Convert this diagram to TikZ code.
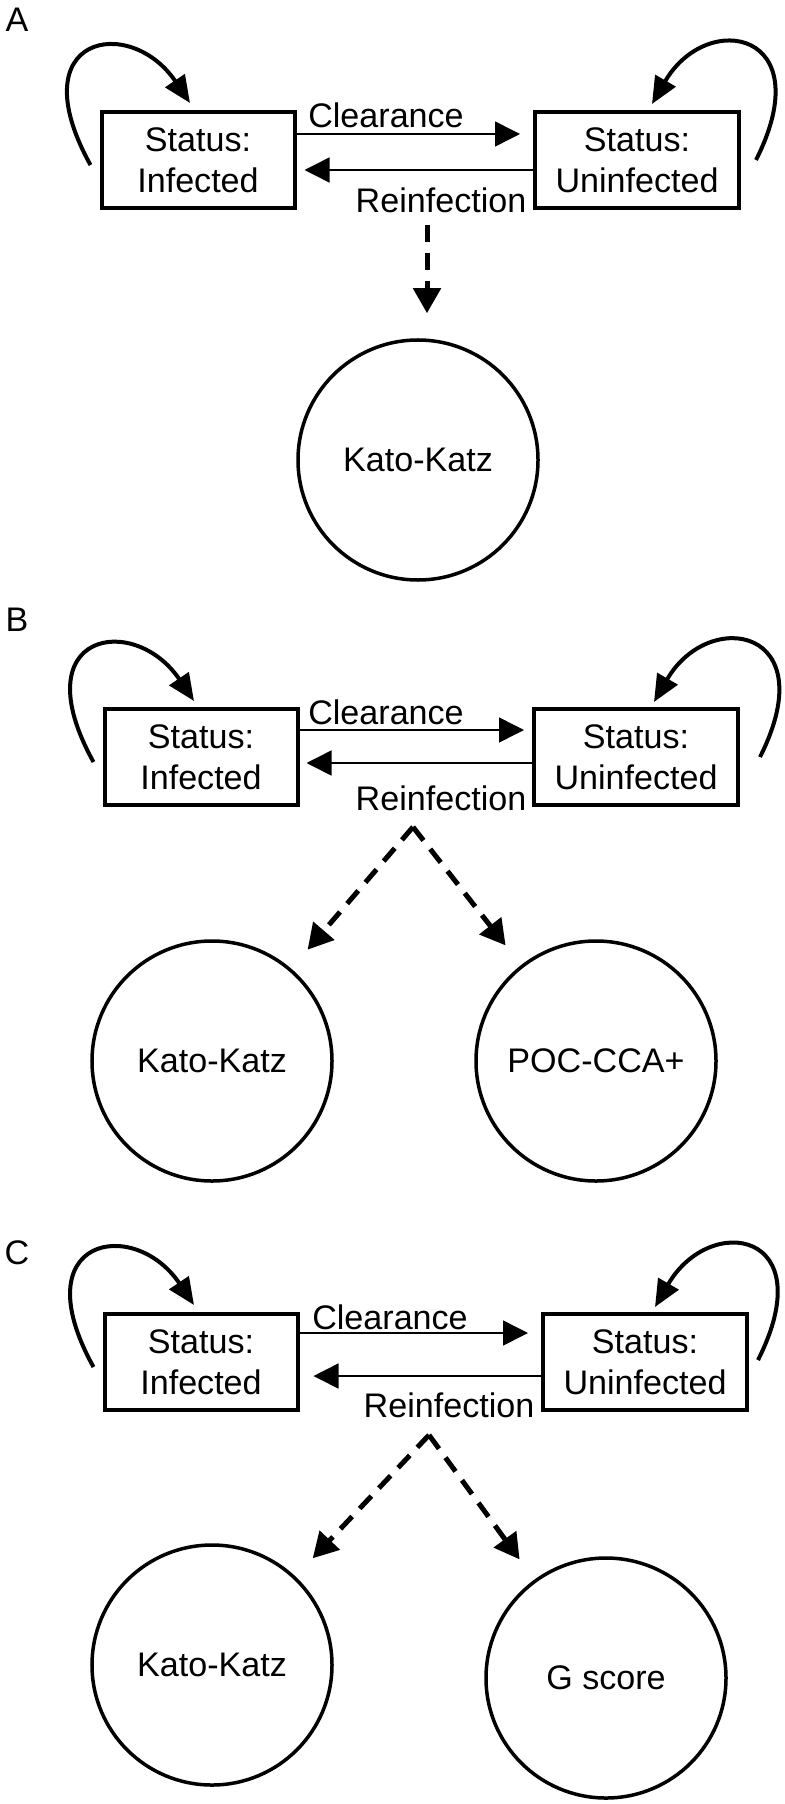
\documentclass[tikz,border=0pt]{standalone}
\usepackage{fontspec}
\setmainfont{Liberation Sans}
\usetikzlibrary{arrows.meta}
\tikzstyle{state}=[draw, line width=0.8mm, align=center, minimum height=19.2mm, inner sep=0pt]
\tikzstyle{test}=[draw, circle, line width=0.7mm, minimum size=48mm, inner sep=0pt]
\tikzstyle{flow}=[line width=0.3mm, -{Triangle[length=5mm,width=5mm]}]
\tikzstyle{selfloop}=[line width=0.8mm, -{Triangle[length=5.4mm,width=4.6mm]}]
\tikzstyle{trace}=[line width=1mm, dash pattern=on 3.4mm off 2.2mm, shorten >=5mm, -{Triangle[length=5mm,width=5.4mm]}]
\tikzstyle{rate}=[inner sep=0pt]
\tikzstyle{panel}=[inner sep=0pt]

\begin{document}
\begin{tikzpicture}[x=0.2mm, y=-0.2mm, font=\fontsize{19.4}{23.3}\selectfont]
  \useasboundingbox (0,0) rectangle (785,1804);

  % A
  \node[panel] (labA) at (17,20) {A};
  \node[state, minimum width=38.6mm] (infA) at (198,160) {Status:\\Infected};
  \node[state, minimum width=40.8mm] (uninfA) at (637,160) {Status:\\Uninfected};
  \node[rate] (clrA) at (386,115) {Clearance};
  \node[rate] (reiA) at (441,200) {Reinfection};
  \draw[flow, shorten >=2.6mm] ([shift={(0,-26)}]infA.east) -- ([shift={(0,-26)}]uninfA.west);
  \draw[flow, shorten >=1.6mm] ([shift={(0,10)}]uninfA.west) -- ([shift={(0,10)}]infA.east);
  \draw[selfloop] ([shift={(-9,5)}]infA.west) .. controls +(-72,-130) and +(-60,-89) .. ([shift={(-8,-7)}]infA.north);
  \draw[selfloop] ([shift={(15,0)}]uninfA.east) .. controls +(65,-129) and +(55,-95) .. ([shift={(15,-6)}]uninfA.north);
  \coordinate (forkA) at (427,225);
  \node[test] (kkA) at (418,460) {Kato-Katz};
  \draw[trace] (forkA) -- (forkA |- kkA.north);

  % B
  \node[panel] (labB) at (17,620) {B};
  \node[state, minimum width=38.6mm] (infB) at (201,757) {Status:\\Infected};
  \node[state, minimum width=40.8mm] (uninfB) at (636,757) {Status:\\Uninfected};
  \node[rate] (clrB) at (386,712) {Clearance};
  \node[rate] (reiB) at (441,798) {Reinfection};
  \draw[flow, shorten >=1.6mm] ([shift={(0,-27)}]infB.east) -- ([shift={(0,-27)}]uninfB.west);
  \draw[flow, shorten >=1.4mm] ([shift={(0,6)}]uninfB.west) -- ([shift={(0,6)}]infB.east);
  \draw[selfloop] ([shift={(-9,5)}]infB.west) .. controls +(-72,-130) and +(-60,-89) .. ([shift={(-7,-6)}]infB.north);
  \draw[selfloop] ([shift={(20,0)}]uninfB.east) .. controls +(65,-129) and +(55,-95) .. ([shift={(18,-5)}]uninfB.north);
  \coordinate (forkB) at (413,827);
  \node[test] (kkB) at (212,1061) {Kato-Katz};
  \node[test] (pocB) at (596,1061) {POC-CCA+};
  \draw[trace] (forkB) -- (kkB);
  \draw[trace] (forkB) -- (pocB);

  % C
  \node[panel] (labC) at (17,1253) {C};
  \node[state, minimum width=38.6mm] (infC) at (201,1362) {Status:\\Infected};
  \node[state, minimum width=40.8mm] (uninfC) at (645,1362) {Status:\\Uninfected};
  \node[rate] (clrC) at (390,1317) {Clearance};
  \node[rate] (reiC) at (449,1405) {Reinfection};
  \draw[flow, shorten >=2.6mm] ([shift={(0,-29)}]infC.east) -- ([shift={(0,-29)}]uninfC.west);
  \draw[flow, shorten >=2.8mm] ([shift={(0,14)}]uninfC.west) -- ([shift={(0,14)}]infC.east);
  \draw[selfloop] ([shift={(-9,5)}]infC.west) .. controls +(-72,-130) and +(-60,-89) .. ([shift={(-7,-7)}]infC.north);
  \draw[selfloop] ([shift={(9,-2)}]uninfC.east) .. controls +(65,-129) and +(55,-95) .. ([shift={(10,-5)}]uninfC.north);
  \coordinate (forkC) at (429,1435);
  \node[test] (kkC) at (212,1665) {Kato-Katz};
  \node[test] (gsC) at (606,1678) {G score};
  \draw[trace] (forkC) -- (kkC);
  \draw[trace] (forkC) -- (gsC);
\end{tikzpicture}
\end{document}
